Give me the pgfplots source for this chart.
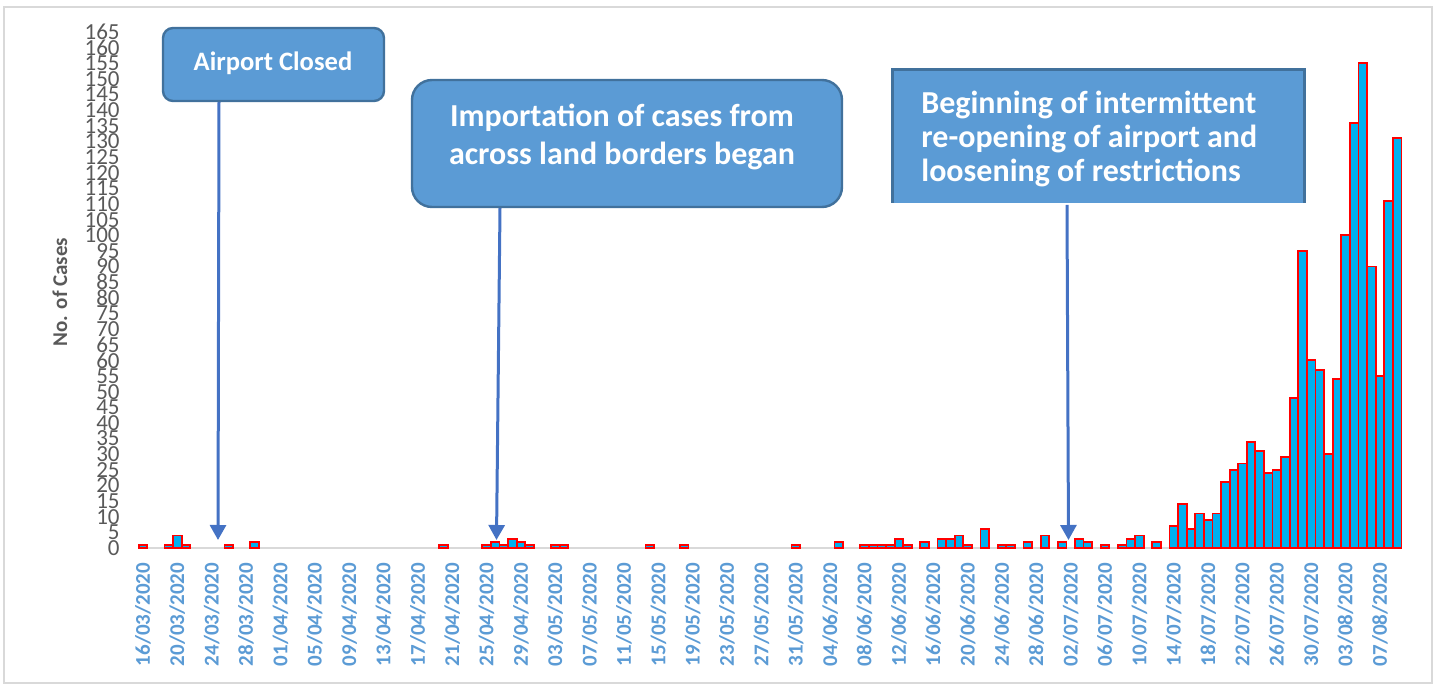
\documentclass[border=0pt]{standalone}
\usepackage{fontspec}
\setmainfont{Carlito}
\usepackage{pgfplots}
\pgfplotsset{compat=1.18}
\usetikzlibrary{arrows.meta}
\definecolor{barfill}{HTML}{00B0F0}
\definecolor{boxfill}{HTML}{5B9BD5}
\definecolor{boxedge}{HTML}{41719C}
\definecolor{arrowc}{HTML}{4472C4}
\definecolor{ticktxt}{HTML}{595959}
\definecolor{datelbl}{HTML}{5B9BD5}
\definecolor{framec}{HTML}{D9D9D9}
\begin{document}
\begin{tikzpicture}
\useasboundingbox (0,0) rectangle (718.5pt,343pt);
\draw[framec, line width=1pt] (2pt,1.5pt) rectangle (716pt,339.5pt);
\begin{axis}[
  at={(69.35pt,69pt)}, anchor=south west,
  scale only axis, width=631.35pt, height=258pt,
  xmin=-0.5, xmax=146.5, ymin=0, ymax=165,
  axis lines*=left,
  y axis line style={draw=none},
  x axis line style={draw=framec, line width=1pt},
  tick style={draw=none},
  ytick={0,5,...,165},
  xtick={0,4,...,144},
  xticklabels={16/03/2020,20/03/2020,24/03/2020,28/03/2020,01/04/2020,05/04/2020,09/04/2020,13/04/2020,17/04/2020,21/04/2020,25/04/2020,29/04/2020,03/05/2020,07/05/2020,11/05/2020,15/05/2020,19/05/2020,23/05/2020,27/05/2020,31/05/2020,04/06/2020,08/06/2020,12/06/2020,16/06/2020,20/06/2020,24/06/2020,28/06/2020,02/07/2020,06/07/2020,10/07/2020,14/07/2020,18/07/2020,22/07/2020,26/07/2020,30/07/2020,03/08/2020,07/08/2020},
  /pgf/number format/assume math mode=true,
  yticklabel style={font=\fontsize{11.5}{12}\selectfont, text=ticktxt},
  yticklabel shift=6pt,
  xticklabel style={font=\bfseries\fontsize{10.5}{12}\selectfont, text=datelbl, rotate=90, anchor=east},
  xticklabel shift=4pt,
  ylabel={No. of Cases},
  every axis y label/.style={at={(axis description cs:-0.0623,0.496)}, rotate=90, anchor=center, font=\bfseries\fontsize{10.5}{12}\selectfont, text=ticktxt},
  bar width=1,
  clip=false,
]
\addplot[ybar, fill=barfill, draw=red, line width=0.9pt] coordinates {
(0,1) (3,1) (4,4) (5,1) (10,1) (13,2) (35,1) (40,1) (41,2) (42,1) (43,3) (44,2) (45,1)
(48,1) (49,1) (59,1) (63,1) (76,1) (81,2) (84,1) (85,1) (86,1) (87,1) (88,3) (89,1)
(91,2) (93,3) (94,3) (95,4) (96,1) (98,6) (100,1) (101,1) (103,2) (105,4) (107,2)
(109,3) (110,2) (112,1) (114,1) (115,3) (116,4) (118,2) (120,7) (121,14) (122,6)
(123,11) (124,9) (125,11) (126,21) (127,25) (128,27) (129,34) (130,31) (131,24)
(132,25) (133,29) (134,48) (135,95) (136,60) (137,57) (138,30) (139,54) (140,100)
(141,136) (142,155) (143,90) (144,55) (145,111) (146,131)
};
\end{axis}
\begin{scope}[x=0.5pt, y=-0.5pt, yshift=343pt]
  % arrows
  \draw[arrowc, line width=1.5pt, -{Triangle[width=8pt,length=7.5pt]}] (219,102) -- (218,540);
  \draw[arrowc, line width=1.5pt, -{Triangle[width=8pt,length=7.5pt]}] (500,208) -- (496.5,540);
  \draw[arrowc, line width=1.5pt, -{Triangle[width=8pt,length=7.5pt]}] (1067,205) -- (1068.5,540);
  % box 1
  \draw[fill=boxfill, draw=boxedge, line width=1.2pt, rounded corners=5pt] (163,28) rectangle (384,101);
  \node[text=white, font=\bfseries\fontsize{13.3}{15}\selectfont, inner sep=0] at (273,63) {Airport Closed};
  % box 2
  \draw[fill=boxfill, draw=boxedge, line width=1.2pt, rounded corners=10pt] (412,80) rectangle (842,207);
  \node[text=white, font=\bfseries\fontsize{16}{19}\selectfont, align=center, inner sep=0] at (622,137) {Importation of cases from\\across land borders began};
  % box 3
  \fill[boxfill] (892,70) rectangle (1304,203);
  \draw[boxedge, line width=1.5pt] (892,203) -- (892,70) -- (1304,70) -- (1304,203);
  \node[text=white, font=\bfseries\fontsize{16}{17}\selectfont, align=left, anchor=west, inner sep=0] at (921,139) {Beginning of intermittent\\re-opening of airport and\\loosening of restrictions};
\end{scope}
\end{tikzpicture}
\end{document}
